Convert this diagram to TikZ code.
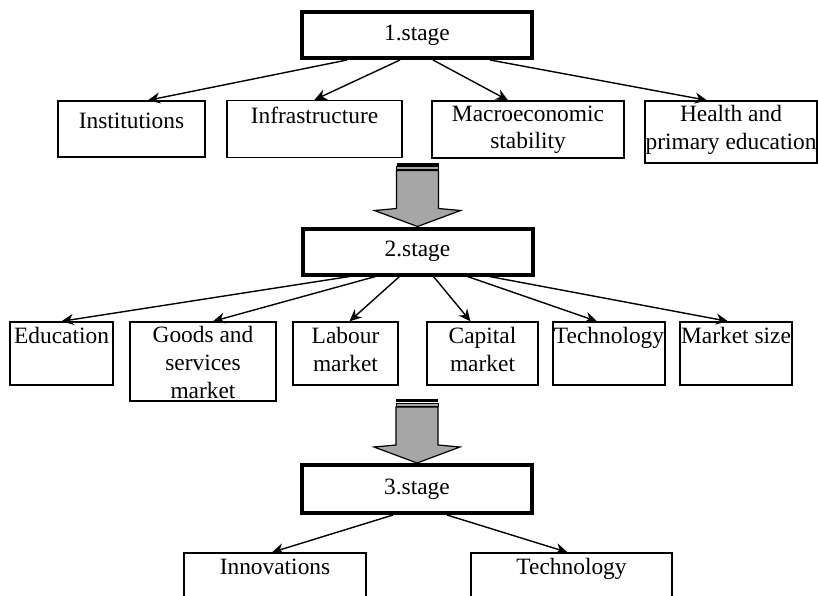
\documentclass[tikz,border=0pt]{standalone}
\usepackage{fontspec}
\setmainfont{Liberation Serif}
\usetikzlibrary{arrows.meta, positioning}
\definecolor{arrowgray}{RGB}{166,166,166}
\tikzset{
  % --- Stufen -----------------------------------------------
  stagebox/.style={draw, line width=2pt, fill=white, align=center,
    minimum width=115pt, minimum height=23pt, inner sep=1pt},
  % --- Faktoren --------------------------------------------
  factbox/.style={draw, line width=0.7pt, fill=white, inner sep=0pt},
  facttxt/.style={anchor=north, align=center, inner sep=1.5pt},
  fl/.style={-{Stealth[length=6pt, width=5.5pt]}, line width=0.7pt},
  % --- Blockpfeil zwischen den Stufen ----------------------
  stagearrow/.pic={
    \fill[black] (-21,-64) rectangle (21,-61);
    \filldraw[fill=arrowgray, draw=black, line width=0.4pt]
      (-21,-60) rectangle (21,-57);
    \filldraw[fill=arrowgray, draw=black, line width=0.6pt]
      (-21,-56) -- (-21,-18) -- (-43,-16) -- (0,0) -- (43,-16)
      -- (21,-18) -- (21,-56) -- cycle;
  }
}

\begin{document}
\begin{tikzpicture}[x=0.5pt, y=-0.5pt, font=\fontsize{11.7}{13.8}\selectfont]

  \useasboundingbox (0,0) rectangle (818,595);

  % --- 1. Stufe ---
  \node[stagebox] (S1) at (417,35) {\raisebox{-1.5pt}{1.stage}};
  \node[factbox, minimum width=73.5pt, minimum height=28pt,
    label={[facttxt, yshift=-4.5pt]north:Institutions}] (inst) at (131.5,129) {};
  \node[factbox, minimum width=87.5pt, minimum height=28.5pt,
    label={[facttxt, yshift=-2pt]north:Infrastructure}] (infra) at (314.5,129) {};
  \node[factbox, minimum width=96pt, minimum height=28.5pt,
    label={[facttxt, yshift=-1pt]north:Macroeconomic\\stability}] (macro) at (528,129.5) {};
  \node[factbox, minimum width=86pt, minimum height=31pt,
    label={[facttxt, yshift=-1pt]north:Health and\\primary education}] (health) at (731,132) {};

  \draw[fl] ([xshift=-35pt]S1.south)  -- ([xshift=8.25pt]inst.north);
  \draw[fl] ([xshift=-8.5pt]S1.south) -- (infra.north);
  \draw[fl] ([xshift=8pt]S1.south)    -- ([xshift=-10pt]macro.north);
  \draw[fl] ([xshift=36.5pt]S1.south) -- ([xshift=-12pt]health.north);

  % --- 2. Stufe ---
  \node[stagebox] (S2) at (417.5,251.5) {\raisebox{-1.5pt}{2.stage}};
  \pic at (S2.north) {stagearrow};

  \node[factbox, minimum width=51.5pt, minimum height=31.5pt,
    label={[facttxt, yshift=-1.5pt]north:Education}] (edu) at (61.5,353.5) {};
  \node[factbox, minimum width=73pt, minimum height=39.5pt,
    label={[facttxt, yshift=-1pt]north:Goods and\\services\\market}] (goods) at (203,361.5) {};
  \node[factbox, minimum width=52.5pt, minimum height=31.5pt,
    label={[facttxt, yshift=-1.5pt]north:Labour\\market}] (labour) at (345.5,353.5) {};
  \node[factbox, minimum width=55.5pt, minimum height=31.5pt,
    label={[facttxt, yshift=-1.5pt]north:Capital\\market}] (capital) at (482.5,353.5) {};
  \node[factbox, minimum width=56pt, minimum height=31.5pt,
    label={[facttxt, yshift=-1.5pt]north:Technology}] (tech) at (609,353.5) {};
  \node[factbox, minimum width=56pt, minimum height=31.5pt,
    label={[facttxt, yshift=-1.5pt]north:Market size}] (msize) at (736,353.5) {};

  \draw[fl] ([xshift=-34pt]S2.south) -- (edu.north);
  \draw[fl] ([xshift=-21pt]S2.south) -- ([xshift=5pt]goods.north);
  \draw[fl] ([xshift=-9pt]S2.south)  -- ([xshift=2pt]labour.north);
  \draw[fl] ([xshift=8pt]S2.south)   -- ([xshift=-6pt]capital.north);
  \draw[fl] ([xshift=25pt]S2.south)  -- ([xshift=-6pt]tech.north);
  \draw[fl] ([xshift=36pt]S2.south)  -- ([xshift=-4pt]msize.north);

  % --- 3. Stufe ---
  \node[stagebox, minimum height=24pt] (S3) at (417,489) {\raisebox{-1.5pt}{3.stage}};
  \pic at (S3.north) {stagearrow};

  \node[factbox, minimum width=91pt, minimum height=26pt,
    label={[facttxt, yshift=-1.5pt]north:Innovations}] (innov) at (275,579) {};
  \node[factbox, minimum width=100.5pt, minimum height=26pt,
    label={[facttxt, yshift=-1.5pt]north:Technology}] (tech3) at (571.5,579) {};

  \draw[fl] ([xshift=-12pt]S3.south) -- ([xshift=-1.5pt]innov.north);
  \draw[fl] ([xshift=15pt]S3.south)  -- ([xshift=-2pt]tech3.north);

\end{tikzpicture}
\end{document}
